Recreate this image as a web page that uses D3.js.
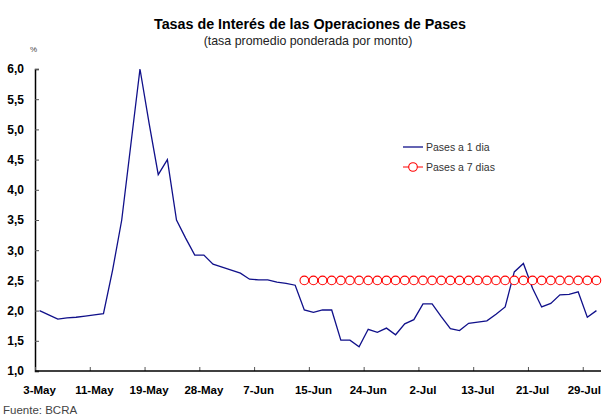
<!DOCTYPE html>
<html>
<head>
<meta charset="utf-8">
<script src="https://cdn.jsdelivr.net/npm/d3@7"></script>
<style>
body { margin: 0; background: #fff; }
text { font-family: "Liberation Sans", Arial, sans-serif; }
</style>
</head>
<body>
<svg id="chart" width="602" height="419"></svg>
<script>

// dias habiles 2004
var fechas = ["3-May","4-May","5-May","6-May","7-May","10-May","11-May","12-May","13-May","14-May",
  "17-May","18-May","19-May","20-May","21-May","24-May","26-May","27-May","28-May","31-May",
  "1-Jun","2-Jun","3-Jun","4-Jun","7-Jun","8-Jun","9-Jun","10-Jun","11-Jun","14-Jun",
  "15-Jun","16-Jun","17-Jun","18-Jun","22-Jun","23-Jun","24-Jun","25-Jun","28-Jun","29-Jun",
  "30-Jun","1-Jul","2-Jul","5-Jul","6-Jul","7-Jul","8-Jul","12-Jul","13-Jul","14-Jul",
  "15-Jul","16-Jul","19-Jul","20-Jul","21-Jul","22-Jul","23-Jul","26-Jul","27-Jul","28-Jul",
  "29-Jul","30-Jul"]

var pases1 = [2.00,1.93,1.86,1.88,1.89,1.91,1.93,1.95,2.67,3.50,
  4.75,6.00,5.10,4.25,4.50,3.50,3.20,2.92,2.92,2.77,
  2.72,2.67,2.62,2.52,2.51,2.51,2.47,2.45,2.42,2.01,
  1.97,2.01,2.01,1.51,1.51,1.40,1.69,1.64,1.71,1.60,
  1.78,1.85,2.11,2.11,1.90,1.70,1.67,1.79,1.81,1.83,
  1.94,2.06,2.64,2.78,2.37,2.06,2.12,2.26,2.27,2.31,
  1.89,2.00]

// pases a 7 dias: empieza el 14-Jun
var pases7 = [null,null,null,null,null,null,null,null,null,null,
  null,null,null,null,null,null,null,null,null,null,
  null,null,null,null,null,null,null,null,null,2.5,
  2.5,2.5,2.5,2.5,2.5,2.5,2.5,2.5,2.5,2.5,
  2.5,2.5,2.5,2.5,2.5,2.5,2.5,2.5,2.5,2.5,
  2.5,2.5,2.5,2.5,2.5,2.5,2.5,2.5,2.5,2.5,
  2.5,2.5]

var yTicks = [1.0,1.5,2.0,2.5,3.0,3.5,4.0,4.5,5.0,5.5,6.0]
var xLabelIdx = [0,6,12,18,24,30,36,42,48,54,60]

var svg = d3.select("#chart")
var margin = { top: 69, right: 601, bottom: 371, left: 35 }

var x = d3.scaleBand().domain(d3.range(fechas.length)).range([margin.left, margin.right]).padding(0)
var xEdge = d3.scaleLinear().domain([0, fechas.length]).range([margin.left, margin.right])
var y = d3.scaleLinear().domain([1, 6]).range([margin.bottom, margin.top])
var cx = function(i){ return x(i) + x.bandwidth()/2 }

var fmt = function(d){ return d3.format(".1f")(d).replace(".", ",") }

//TITLES
svg.append("text")
  .attr("x", 310).attr("y", 29)
  .attr("text-anchor", "middle")
  .style("font-size", "14.3px").style("font-weight", "bold")
  .text("Tasas de Interés de las Operaciones de Pases")
svg.append("text")
  .attr("x", 308).attr("y", 45)
  .attr("text-anchor", "middle")
  .style("font-size", "12.4px").attr("fill", "#222")
  .text("(tasa promedio ponderada por monto)")
svg.append("text")
  .attr("x", 30).attr("y", 52)
  .style("font-size", "8px").attr("fill", "#444")
  .text("%")

//Y AXIS
var yAxis = svg.append("g")
  .attr("transform", "translate(" + margin.left + ",0)")
  .call(d3.axisLeft(y).tickValues(yTicks).tickSize(-4).tickPadding(11).tickFormat(fmt))
yAxis.select(".domain").attr("stroke", "#000").attr("stroke-width", 1.5)
yAxis.selectAll(".tick line").attr("stroke", "#555")
yAxis.selectAll(".tick text")
  .style("font-size", "12px").style("font-weight", "bold")
  .style("font-family", "'Liberation Sans', Arial, sans-serif").attr("fill", "#000")

//X AXIS (marcas entre categorias, etiquetas centradas)
var xTicks = svg.append("g")
  .attr("transform", "translate(0," + margin.bottom + ")")
  .call(d3.axisBottom(xEdge).tickValues(xLabelIdx).tickSize(-4).tickFormat(""))
xTicks.select(".domain").remove()
xTicks.selectAll(".tick line").attr("stroke", "#555")

var xAxis = svg.append("g")
  .attr("transform", "translate(0," + margin.bottom + ")")
  .call(d3.axisBottom(x).tickValues(xLabelIdx).tickSize(0).tickPadding(15)
    .tickFormat(function(i){ return fechas[i] }))
xAxis.select(".domain").remove()
xAxis.selectAll(".tick text")
  .style("font-size", "11.5px").style("font-weight", "bold")
  .style("font-family", "'Liberation Sans', Arial, sans-serif").attr("fill", "#000")
// la ultima etiqueta queda pegada al borde
xAxis.selectAll(".tick text").filter(function(d){ return d == 60 }).attr("dx", -3)

svg.append("line")
  .attr("x1", margin.left).attr("x2", margin.right)
  .attr("y1", margin.bottom).attr("y2", margin.bottom)
  .attr("stroke", "#000").attr("stroke-width", 1.5)

//LINES
var line = d3.line()
  .defined(function(d){ return d != null })
  .x(function(d, i){ return cx(i) })
  .y(function(d){ return y(d) })

svg.append("path")
  .datum(pases1)
  .attr("d", line)
  .attr("fill", "none").attr("stroke", "#10108a").attr("stroke-width", 1.3)

svg.append("path")
  .datum(pases7)
  .attr("d", line)
  .attr("fill", "none").attr("stroke", "#ff0000").attr("stroke-width", 1)

svg.selectAll(".dot7")
  .data(pases7.map(function(d, i){ return {v: d, i: i} }).filter(function(d){ return d.v != null }))
  .enter().append("circle")
  .attr("class", "dot7")
  .attr("cx", function(d){ return cx(d.i) })
  .attr("cy", function(d){ return y(d.v) })
  .attr("r", 4.3)
  .attr("fill", "#fff").attr("stroke", "#ff0000").attr("stroke-width", 1.1)

//LEGEND
var legend = svg.append("g")
legend.append("line")
  .attr("x1", 403).attr("x2", 423).attr("y1", 147).attr("y2", 147)
  .attr("stroke", "#10108a").attr("stroke-width", 1.3)
legend.append("text")
  .attr("x", 426).attr("y", 150.5)
  .style("font-size", "10.5px").attr("fill", "#333")
  .text("Pases a 1 dia")
legend.append("line")
  .attr("x1", 403).attr("x2", 423).attr("y1", 167).attr("y2", 167)
  .attr("stroke", "#ff0000").attr("stroke-width", 1)
legend.append("circle")
  .attr("cx", 413).attr("cy", 167).attr("r", 4.3)
  .attr("fill", "#fff").attr("stroke", "#ff0000").attr("stroke-width", 1.1)
legend.append("text")
  .attr("x", 426).attr("y", 170.5)
  .style("font-size", "10.5px").attr("fill", "#333")
  .text("Pases a 7 dias")

svg.append("text")
  .attr("x", 3).attr("y", 414)
  .style("font-size", "11.5px").attr("fill", "#444")
  .text("Fuente: BCRA")

</script>
</body>
</html>
